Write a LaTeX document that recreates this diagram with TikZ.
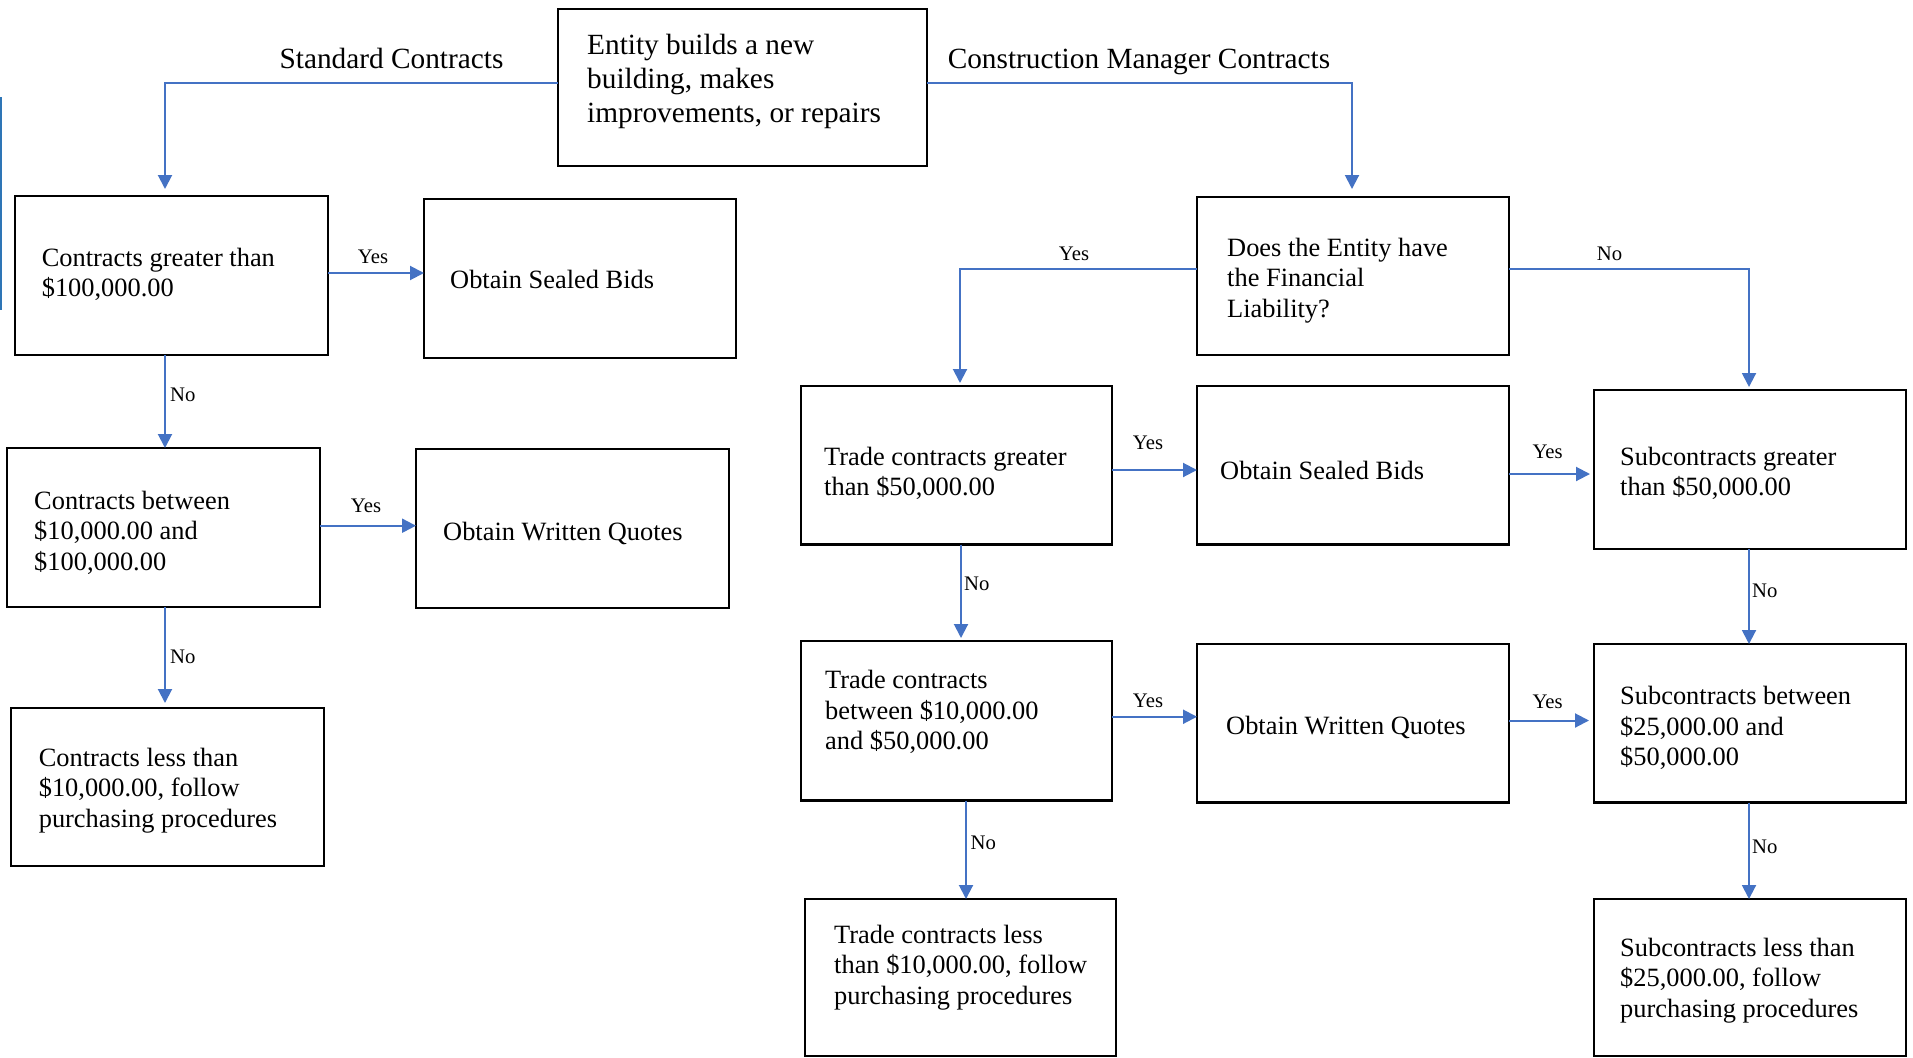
\documentclass[tikz,border=0pt]{standalone}
\usepackage{fontspec}
\setmainfont{Liberation Serif}
\usetikzlibrary{arrows.meta}
\definecolor{flowblue}{HTML}{4472C4}
\definecolor{edgeblue}{HTML}{2E75B6}
\begin{document}
\begin{tikzpicture}[x=1pt,y=-1pt,
  box/.style={draw=black, line width=2.5pt, inner sep=0pt, outer sep=0pt},
  boxtext/.style={inner sep=0pt, anchor=north west, align=left, font=\fontsize{26.4}{30.5}\selectfont},
  bigtext/.style={inner sep=0pt, align=left, font=\fontsize{29.3}{33.6}\selectfont},
  yn/.style={inner sep=0pt, font=\fontsize{20.7}{24}\selectfont},
  arr/.style={draw=flowblue, line width=2pt, -{Triangle[length=14pt,width=14pt]}},
]
\path[fill=white,use as bounding box] (0,0) rectangle (1913,1057);

% left edge artefact
\draw[edgeblue, line width=2.5pt] (1,97) -- (1,310);

% boxes
\node[box, minimum width=369pt, minimum height=157pt] (top) at (742.5,87.5) {};
\node[box, minimum width=313pt, minimum height=159pt] (b1) at (171.5,275.5) {};
\node[box, minimum width=312pt, minimum height=159pt] (osb1) at (580,278.5) {};
\node[box, minimum width=313pt, minimum height=159pt] (b2) at (163.5,527.5) {};
\node[box, minimum width=313pt, minimum height=159pt] (owq1) at (572.5,528.5) {};
\node[box, minimum width=313pt, minimum height=158pt] (b3) at (167.5,787) {};
\node[box, minimum width=312pt, minimum height=158pt] (dec) at (1353,276) {};
\node[box, minimum width=311pt, minimum height=158.5pt] (t1) at (956.5,465.25) {};
\node[box, minimum width=312pt, minimum height=158.5pt] (osb2) at (1353,465.25) {};
\node[box, minimum width=312pt, minimum height=159pt] (s1) at (1750,469.5) {};
\node[box, minimum width=311pt, minimum height=159.5pt] (t2) at (956.5,720.75) {};
\node[box, minimum width=312pt, minimum height=158.6pt] (owq2) at (1353,723.3) {};
\node[box, minimum width=312pt, minimum height=158.6pt] (s2) at (1750,723.3) {};
\node[box, minimum width=311pt, minimum height=157pt] (t3) at (960.5,977.5) {};
\node[box, minimum width=312pt, minimum height=157pt] (s3) at (1750,977.5) {};

% box texts
\node[bigtext, anchor=north west] (toptx) at (587,27.7) {\rule{0pt}{27pt}Entity builds a new\\building, makes\\improvements, or repairs};
\node[boxtext] (b1tx) at (41.6,242) {\rule{0pt}{24pt}Contracts greater than\\\$100,000.00};
\node[boxtext] (osb1tx) at (450,264) {\rule{0pt}{24pt}Obtain Sealed Bids};
\node[boxtext] (b2tx) at (34,485) {\rule{0pt}{24pt}Contracts between\\\$10,000.00 and\\\$100,000.00};
\node[boxtext] (owq1tx) at (443,516) {\rule{0pt}{24pt}Obtain Written Quotes};
\node[boxtext] (b3tx) at (38.6,742) {\rule{0pt}{24pt}Contracts less than\\\$10,000.00, follow\\purchasing procedures};
\node[boxtext] (dectx) at (1227,232) {\rule{0pt}{24pt}Does the Entity have\\the Financial\\Liability?};
\node[boxtext] (t1tx) at (824,441) {\rule{0pt}{24pt}Trade contracts greater\\than \$50,000.00};
\node[boxtext] (osb2tx) at (1220,455) {\rule{0pt}{24pt}Obtain Sealed Bids};
\node[boxtext] (s1tx) at (1620,441) {\rule{0pt}{24pt}Subcontracts greater\\than \$50,000.00};
\node[boxtext] (t2tx) at (825,664.7) {\rule{0pt}{24pt}Trade contracts\\between \$10,000.00\\and \$50,000.00};
\node[boxtext] (owq2tx) at (1226,710) {\rule{0pt}{24pt}Obtain Written Quotes};
\node[boxtext] (s2tx) at (1620,680.6) {\rule{0pt}{24pt}Subcontracts between\\\$25,000.00 and\\\$50,000.00};
\node[boxtext] (t3tx) at (834,919) {\rule{0pt}{24pt}Trade contracts less\\than \$10,000.00, follow\\purchasing procedures};
\node[boxtext] (s3tx) at (1620,932) {\rule{0pt}{24pt}Subcontracts less than\\\$25,000.00, follow\\purchasing procedures};

% connectors
\draw[arr, shorten >=7pt] ([yshift=4.5pt]top.west) -| ([xshift=-6.5pt]b1.north);
\draw[arr, shorten >=8pt] ([yshift=4.5pt]top.east) -| ([xshift=-1pt]dec.north);
\draw[arr] ([yshift=2.5pt]b1.east) -- ([yshift=2.5pt]b1.east -| osb1.west);
\draw[arr] ([xshift=-6.5pt]b1.south) -- ([xshift=-6.5pt]b1.south |- b2.north);
\draw[arr] ([yshift=1.8pt]b2.east) -- ([yshift=1.8pt]b2.east -| owq1.west);
\draw[arr, shorten >=5pt] ([xshift=1.5pt]b2.south) -- ([xshift=1.5pt]b2.south |- b3.north);
\draw[arr, shorten >=3pt] ([yshift=7pt]dec.west) -| ([xshift=3.5pt]t1.north);
\draw[arr, shorten >=3pt] ([yshift=7pt]dec.east) -| ([xshift=-1pt]s1.north);
\draw[arr] ([yshift=-4.75pt]t1.east) -- ([yshift=-4.75pt]t1.east -| osb2.west);
\draw[arr, shorten >=4pt] ([yshift=-8.75pt]osb2.east) -- ([yshift=-8.75pt]osb2.east -| s1.west);
\draw[arr, shorten >=3pt] ([xshift=4.5pt]t1.south) -- ([xshift=4.5pt]t1.south |- t2.north);
\draw[arr] ([yshift=4pt]t2.east) -- ([yshift=4pt]t2.east -| owq2.west);
\draw[arr, shorten >=5pt] ([yshift=2.8pt]owq2.east) -- ([yshift=2.8pt]owq2.east -| s2.west);
\draw[arr] ([xshift=-1pt]s1.south) -- ([xshift=-1pt]s1.south |- s2.north);
\draw[arr] ([xshift=9.5pt]t2.south) -- ([xshift=9.5pt]t2.south |- t3.north);
\draw[arr] ([xshift=-1pt]s2.south) -- ([xshift=-1pt]s2.south |- s3.north);

% branch labels
\node[bigtext, anchor=base] (lstd) at (391.5,69) {Standard Contracts};
\node[bigtext, anchor=base] (lcm) at (1139,69) {Construction Manager Contracts};

% yes / no labels
\node[yn, anchor=base] (y1) at (373,263.5) {Yes};
\node[yn, anchor=base west] (n1) at (170,401.5) {No};
\node[yn, anchor=base] (y2) at (366,512.5) {Yes};
\node[yn, anchor=base west] (n2) at (170,663.5) {No};
\node[yn, anchor=base] (y3) at (1074,260.5) {Yes};
\node[yn, anchor=base] (n3) at (1609.5,260.5) {No};
\node[yn, anchor=base] (y4) at (1148,449.5) {Yes};
\node[yn, anchor=base] (y5) at (1547.6,458) {Yes};
\node[yn, anchor=base west] (n4) at (964,590.5) {No};
\node[yn, anchor=base] (y6) at (1148,707.5) {Yes};
\node[yn, anchor=base] (y7) at (1547.6,708) {Yes};
\node[yn, anchor=base west] (n5) at (1752,597) {No};
\node[yn, anchor=base west] (n6) at (970.5,849.5) {No};
\node[yn, anchor=base west] (n7) at (1752,853.5) {No};
\end{tikzpicture}
\end{document}
